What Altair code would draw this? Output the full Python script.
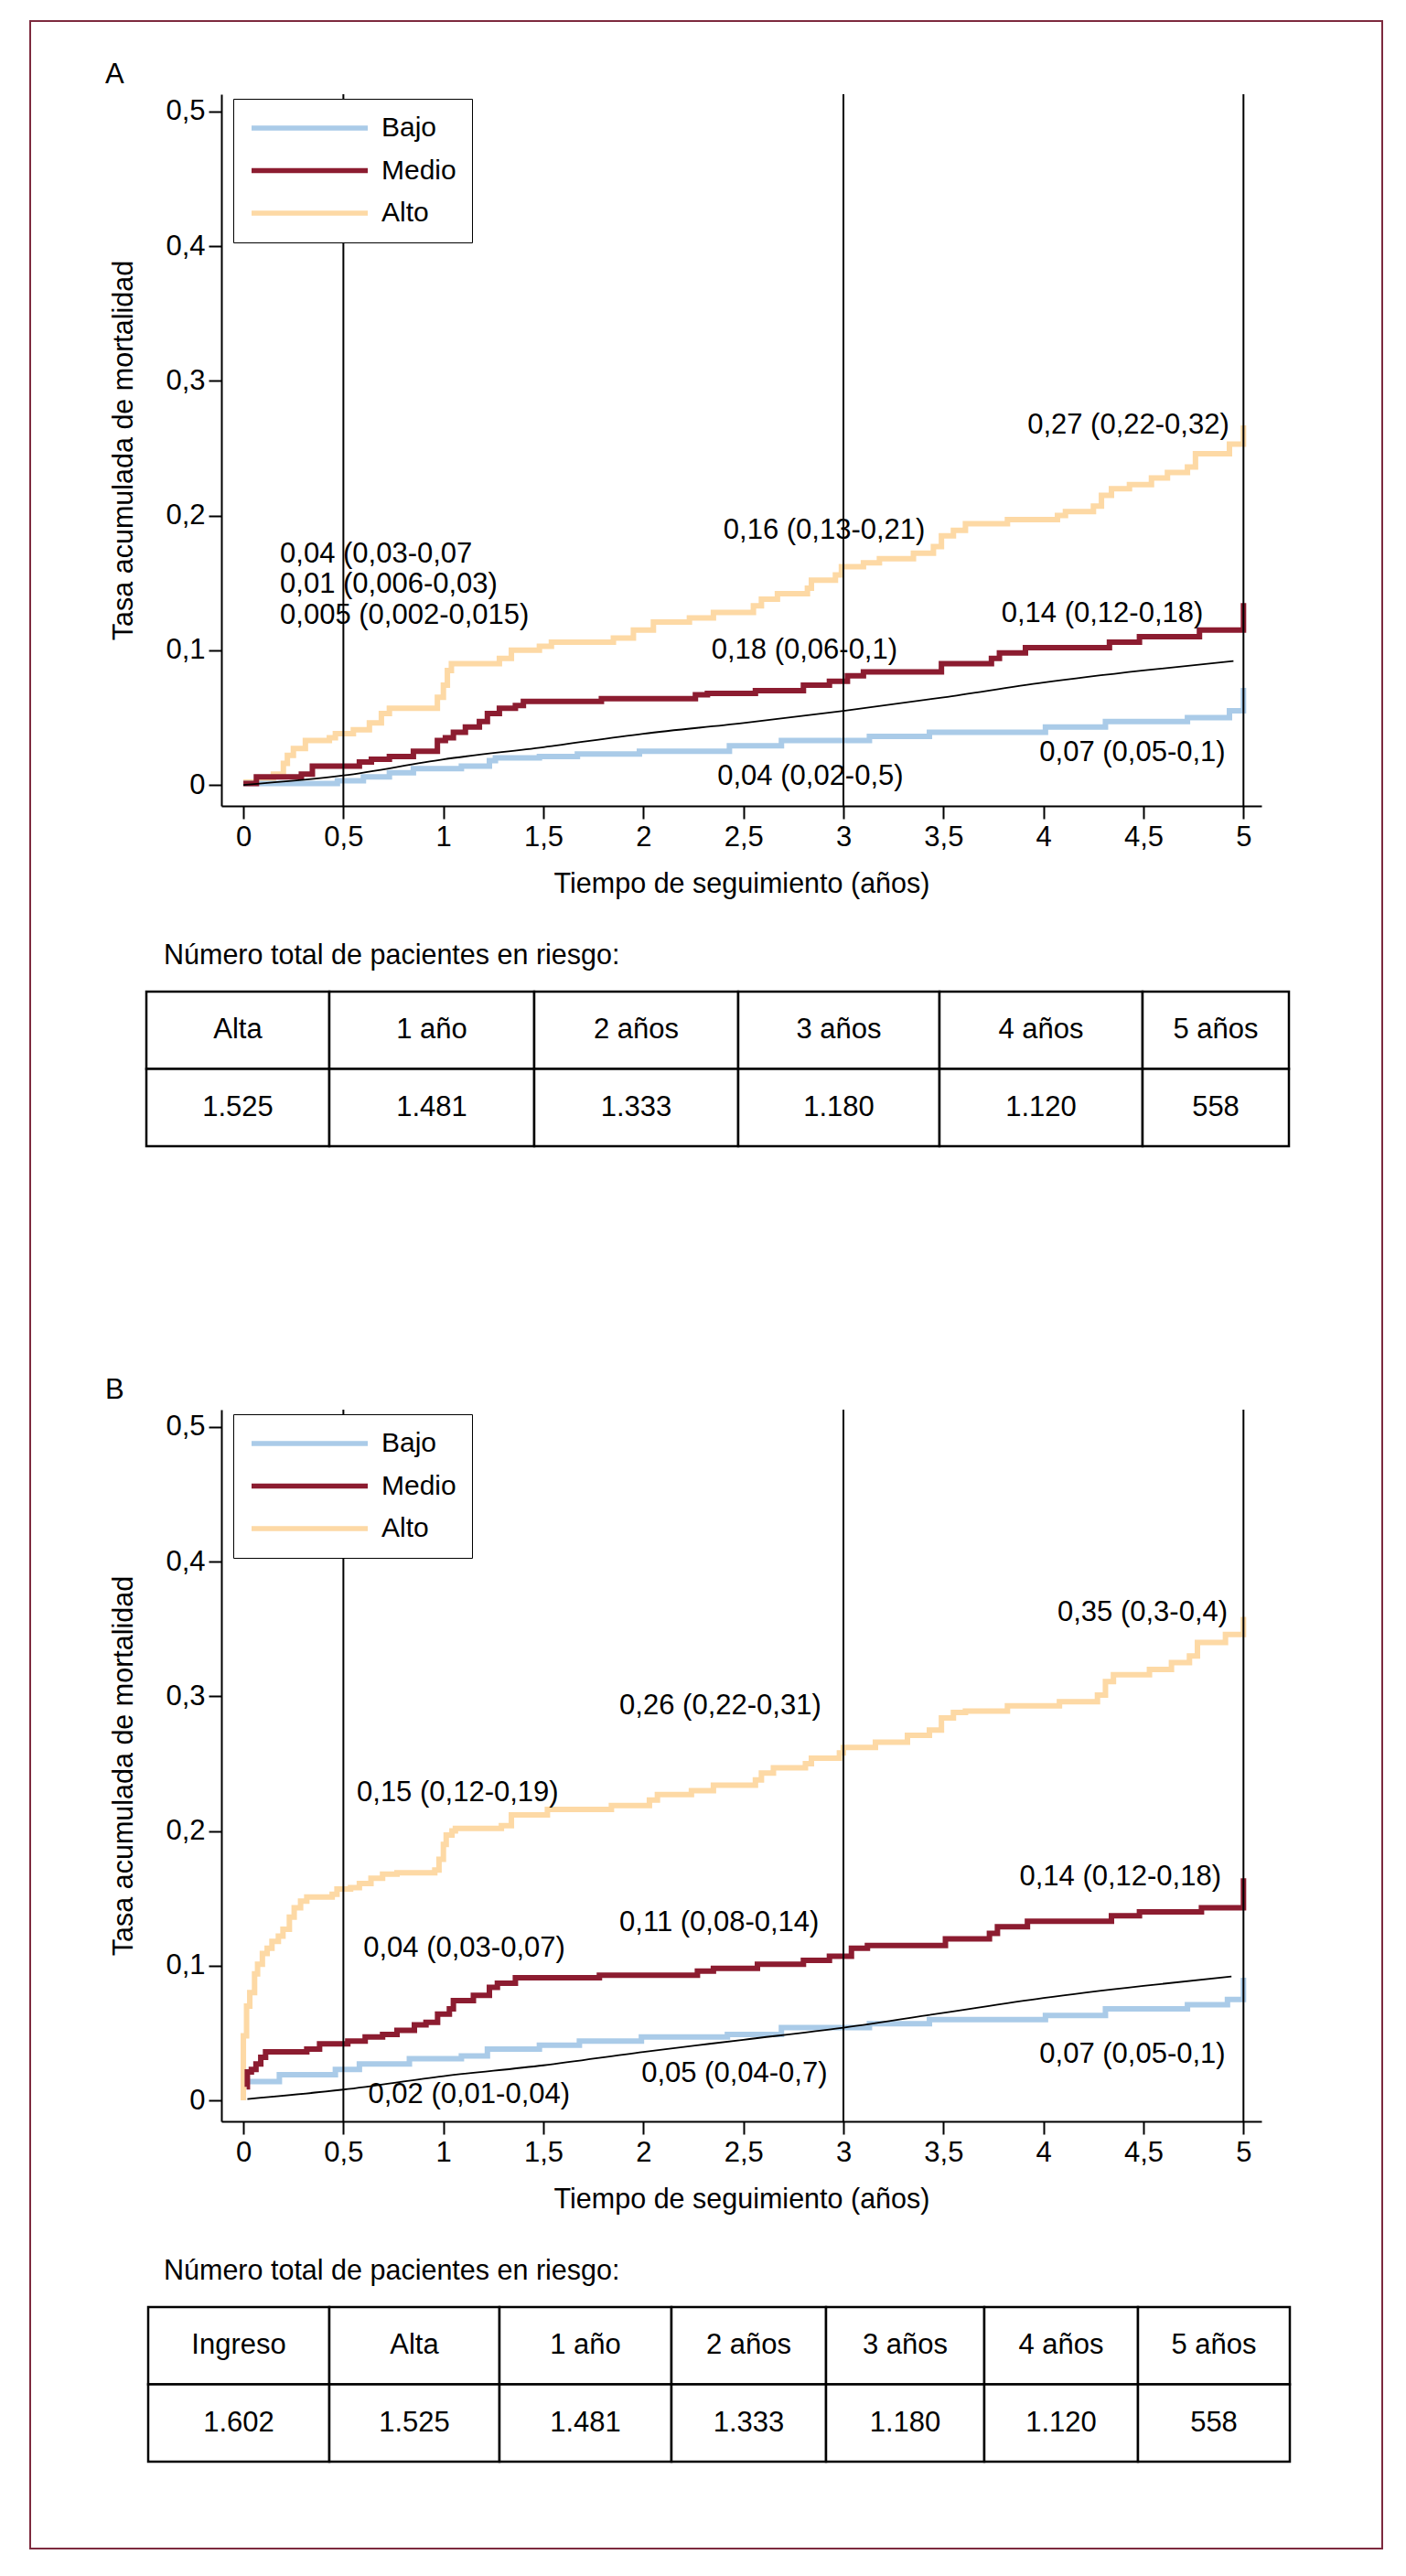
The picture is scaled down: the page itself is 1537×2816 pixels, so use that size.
import altair as alt
import pandas as pd

# ---------------- data ----------------
SERIES = ["Bajo", "Medio", "Alto"]
SERIES_COLORS = ["#AACBE8", "#8C1C30", "#FDD9A5"]
X_TICKS = [0, 0.5, 1, 1.5, 2, 2.5, 3, 3.5, 4, 4.5, 5]
Y_TICKS = [0, 0.1, 0.2, 0.3, 0.4, 0.5]
REF_YEARS = [0.5, 3, 5]

A_ALTO = [(0.0, 0.002), (0.15, 0.008), (0.20, 0.016), (0.22, 0.022), (0.25, 0.027), (0.31, 0.033),
          (0.43, 0.035), (0.46, 0.038), (0.55, 0.041), (0.63, 0.046), (0.69, 0.053), (0.73, 0.057),
          (0.97, 0.065), (1.00, 0.074), (1.02, 0.085), (1.04, 0.090), (1.28, 0.094), (1.34, 0.100),
          (1.48, 0.103), (1.54, 0.106), (1.85, 0.109), (1.95, 0.115), (2.05, 0.121), (2.23, 0.124),
          (2.35, 0.128), (2.55, 0.133), (2.59, 0.138), (2.67, 0.142), (2.82, 0.146), (2.84, 0.152),
          (2.96, 0.156), (2.99, 0.162), (3.10, 0.165), (3.18, 0.168), (3.35, 0.172), (3.45, 0.177),
          (3.49, 0.185), (3.55, 0.189), (3.61, 0.194), (3.82, 0.197), (4.07, 0.200), (4.11, 0.203),
          (4.25, 0.207), (4.29, 0.215), (4.34, 0.220), (4.43, 0.223), (4.54, 0.228), (4.62, 0.232),
          (4.72, 0.236), (4.76, 0.246), (4.93, 0.253), (5.0, 0.267)]
A_MEDIO = [(0.0, 0.001), (0.065, 0.006), (0.29, 0.008), (0.345, 0.014), (0.58, 0.017), (0.64, 0.019),
           (0.73, 0.021), (0.85, 0.025), (0.97, 0.033), (1.01, 0.035), (1.05, 0.039), (1.11, 0.043),
           (1.18, 0.047), (1.22, 0.053), (1.28, 0.057), (1.36, 0.059), (1.40, 0.062), (1.79, 0.064),
           (2.26, 0.067), (2.32, 0.068), (2.56, 0.070), (2.80, 0.074), (2.93, 0.077), (3.02, 0.081),
           (3.10, 0.084), (3.49, 0.090), (3.74, 0.094), (3.78, 0.098), (3.91, 0.102), (4.33, 0.106),
           (4.48, 0.110), (4.78, 0.115), (5.0, 0.135)]
A_BAJO = [(0.0, 0.001), (0.47, 0.003), (0.60, 0.006), (0.73, 0.009), (0.85, 0.012), (1.09, 0.014),
          (1.23, 0.018), (1.26, 0.020), (1.48, 0.021), (1.67, 0.023), (1.98, 0.025), (2.43, 0.029),
          (2.69, 0.033), (3.13, 0.036), (3.43, 0.039), (4.01, 0.043), (4.31, 0.047), (4.72, 0.050),
          (4.93, 0.055), (5.0, 0.072)]
A_EXPECTED = [(0.0, 0.0), (0.5, 0.007), (1.0, 0.019), (1.5, 0.028), (2.0, 0.038), (2.5, 0.046),
              (3.0, 0.055), (3.5, 0.065), (4.0, 0.076), (4.5, 0.085), (4.95, 0.092)]
A_LABELS = [("0,04 (0,03-0,07", 0.183, 0.171), ("0,01 (0,006-0,03)", 0.183, 0.149),
            ("0,005 (0,002-0,015)", 0.183, 0.126), ("0,16 (0,13-0,21)", 2.40, 0.189),
            ("0,27 (0,22-0,32)", 3.92, 0.267), ("0,18 (0,06-0,1)", 2.34, 0.100),
            ("0,14 (0,12-0,18)", 3.79, 0.127), ("0,04 (0,02-0,5)", 2.37, 0.006),
            ("0,07 (0,05-0,1)", 3.98, 0.024)]

B_ALTO = [(0.0, 0.0), (0.0, 0.048), (0.016, 0.070), (0.032, 0.080), (0.056, 0.094), (0.071, 0.101),
          (0.095, 0.109), (0.119, 0.113), (0.143, 0.118), (0.175, 0.122), (0.198, 0.127), (0.23, 0.136),
          (0.254, 0.143), (0.286, 0.148), (0.317, 0.151), (0.444, 0.153), (0.468, 0.157), (0.536, 0.158),
          (0.58, 0.161), (0.638, 0.165), (0.696, 0.168), (0.768, 0.169), (0.957, 0.171), (0.978, 0.179),
          (1.0, 0.190), (1.014, 0.197), (1.043, 0.200), (1.06, 0.202), (1.29, 0.204), (1.34, 0.212),
          (1.52, 0.216), (1.84, 0.219), (2.03, 0.223), (2.07, 0.227), (2.24, 0.230), (2.35, 0.234),
          (2.56, 0.238), (2.59, 0.243), (2.65, 0.247), (2.81, 0.250), (2.84, 0.254), (2.98, 0.258),
          (3.0, 0.262), (3.16, 0.266), (3.32, 0.271), (3.43, 0.275), (3.49, 0.284), (3.55, 0.288),
          (3.61, 0.289), (3.82, 0.293), (4.08, 0.296), (4.27, 0.301), (4.31, 0.311), (4.35, 0.316),
          (4.53, 0.320), (4.64, 0.325), (4.73, 0.330), (4.77, 0.340), (4.91, 0.346), (5.0, 0.359)]
B_MEDIO = [(0.016, 0.010), (0.02, 0.021), (0.04, 0.023), (0.063, 0.027), (0.087, 0.032), (0.111, 0.036),
           (0.317, 0.038), (0.381, 0.042), (0.522, 0.044), (0.609, 0.047), (0.696, 0.049), (0.768, 0.052),
           (0.855, 0.056), (0.913, 0.058), (0.971, 0.064), (1.03, 0.068), (1.05, 0.074), (1.15, 0.078),
           (1.23, 0.084), (1.27, 0.087), (1.36, 0.091), (1.78, 0.093), (2.27, 0.096), (2.35, 0.098),
           (2.57, 0.101), (2.80, 0.104), (2.93, 0.107), (3.04, 0.113), (3.12, 0.115), (3.51, 0.120),
           (3.73, 0.124), (3.77, 0.129), (3.92, 0.133), (4.34, 0.137), (4.48, 0.140), (4.79, 0.143),
           (5.0, 0.165)]
B_BAJO = [(0.016, 0.014), (0.18, 0.019), (0.46, 0.023), (0.58, 0.027), (0.83, 0.031), (1.09, 0.033),
          (1.22, 0.038), (1.48, 0.041), (1.68, 0.044), (1.99, 0.047), (2.42, 0.049), (2.69, 0.054),
          (3.13, 0.057), (3.43, 0.060), (4.01, 0.063), (4.31, 0.068), (4.72, 0.071), (4.92, 0.075),
          (5.0, 0.091)]
B_EXPECTED = [(0.02, 0.001), (0.5, 0.008), (1.0, 0.018), (1.5, 0.026), (2.0, 0.036), (2.5, 0.045),
              (3.0, 0.054), (3.5, 0.065), (4.0, 0.076), (4.5, 0.085), (4.94, 0.092)]
B_LABELS = [("0,15 (0,12-0,19)", 0.567, 0.228), ("0,04 (0,03-0,07)", 0.60, 0.113),
            ("0,02 (0,01-0,04)", 0.624, 0.004), ("0,26 (0,22-0,31)", 1.88, 0.293),
            ("0,11 (0,08-0,14)", 1.88, 0.132), ("0,05 (0,04-0,7)", 1.99, 0.020),
            ("0,35 (0,3-0,4)", 4.07, 0.362), ("0,14 (0,12-0,18)", 3.88, 0.166),
            ("0,07 (0,05-0,1)", 3.98, 0.034)]

TABLE_TITLE = "Número total de pacientes en riesgo:"
A_TABLE_COLS = ["Alta", "1 año", "2 años", "3 años", "4 años", "5 años"]
A_TABLE_VALS = ["1.525", "1.481", "1.333", "1.180", "1.120", "558"]
B_TABLE_COLS = ["Ingreso", "Alta", "1 año", "2 años", "3 años", "4 años", "5 años"]
B_TABLE_VALS = ["1.602", "1.525", "1.481", "1.333", "1.180", "1.120", "558"]

# ---------------- layout / style ----------------
A_COL_WIDTHS = [200, 224, 223, 220, 222, 160]
B_COL_WIDTHS = [198, 186, 188, 169, 173, 168, 166]
FONT = "Liberation Sans, Arial, sans-serif"
PW, PH = 1137, 778
TH = 169
XDOM = [-0.11, 5.09]
YDOM = [-0.0156, 0.5129]
BORDER_COLOR = "#7D2A3E"
TITLE_SIZE = 30.5


def x_enc():
    return alt.X("t:Q", scale=alt.Scale(domain=XDOM, nice=False, zero=False),
                 axis=alt.Axis(values=X_TICKS, format=".1~f",
                               labelExpr="replace(datum.label, '.', ',')",
                               title="Tiempo de seguimiento (años)", titleFont=FONT,
                               titleFontSize=TITLE_SIZE, titleFontWeight="normal",
                               titleColor="black", titlePadding=21, labelFont=FONT,
                               labelFontSize=31, labelColor="black", labelPadding=5,
                               tickSize=14, tickWidth=2, tickColor="black",
                               domainColor="black", domainWidth=2, grid=False,
                               labelFlush=False, labelOverlap=False))


def y_enc():
    return alt.Y("v:Q", scale=alt.Scale(domain=YDOM, nice=False, zero=False),
                 axis=alt.Axis(values=Y_TICKS, format=".1~f",
                               labelExpr="replace(datum.label, '.', ',')",
                               title="Tasa acumulada de mortalidad", titleFont=FONT,
                               titleFontSize=TITLE_SIZE, titleFontWeight="normal",
                               titleColor="black", titlePadding=30, labelFont=FONT,
                               labelFontSize=31, labelColor="black", labelPadding=4,
                               tickSize=14, tickWidth=2, tickColor="black",
                               domainColor="black", domainWidth=2, grid=False,
                               labelFlush=False, labelOverlap=False))


def panel(alto, medio, bajo, expected, labels, letter, with_border):
    rows = []
    for name, pts in (("Alto", alto), ("Bajo", bajo), ("Medio", medio)):
        for i, (t, v) in enumerate(pts):
            rows.append({"serie": name, "t": t, "v": v, "i": i})
    steps = pd.DataFrame(rows)
    x = x_enc()
    y = y_enc()
    color = alt.Color("serie:N", scale=alt.Scale(domain=SERIES, range=SERIES_COLORS),
                      legend=alt.Legend(title=None, orient="none", legendX=13, legendY=5,
                                        symbolType="stroke", symbolSize=16129,
                                        symbolStrokeWidth=5.5, labelFont=FONT, labelFontSize=30,
                                        labelColor="black", labelOffset=12, strokeColor="black",
                                        fillColor="white", padding=17, rowPadding=16.5,
                                        clipHeight=30))
    base = alt.Chart(steps).mark_line(interpolate="step-after", strokeWidth=6,
                                      strokeJoin="miter", strokeCap="butt").encode(
        x=x, y=y, color=color, order="i:Q")
    layers = [base.transform_filter(alt.datum.serie == s) for s in ("Alto", "Bajo", "Medio")]

    exp = alt.Chart(pd.DataFrame(expected, columns=["t", "v"])).mark_line(
        color="black", strokeWidth=1.8, interpolate="monotone").encode(x=x, y=y)
    ref = alt.Chart(pd.DataFrame({"t": REF_YEARS})).mark_rule(
        color="black", strokeWidth=2).encode(x=x)
    lab = alt.Chart(pd.DataFrame(labels, columns=["txt", "t", "v"])).mark_text(
        align="left", baseline="middle", font=FONT, fontSize=31, color="black").encode(
        x=x, y=y, text="txt:N")
    let = alt.Chart(pd.DataFrame({"p": [letter]})).mark_text(
        align="left", baseline="middle", font=FONT, fontSize=31, color="black").encode(
        x=alt.value(-127), y=alt.value(-21), text="p:N")
    parts = layers + [exp, ref, lab, let]
    if with_border:
        border = alt.Chart(pd.DataFrame({"k": [0]})).mark_rect(
            fillOpacity=0, stroke=BORDER_COLOR, strokeWidth=2).encode(
            x=alt.value(-209), x2=alt.value(1269), y=alt.value(-80), y2=alt.value(2683))
        parts.append(border)
    return alt.layer(*parts).properties(width=PW, height=PH)


def table(cols, vals, widths, x0):
    n = len(cols)
    starts = [sum(widths[:i]) for i in range(n)]
    ends = [s + w for s, w in zip(starts, widths)]
    mids = [(s + e) / 2 for s, e in zip(starts, ends)]
    total = sum(widths)
    df = pd.DataFrame({"c0": starts * 2, "c1": ends * 2, "cm": mids * 2,
                       "row": ["h"] * n + ["v"] * n, "txt": cols + vals})
    xs = alt.Scale(domain=[0, total], range=[x0, x0 + total], nice=False, zero=False)
    y = alt.Y("row:N", scale=alt.Scale(domain=["h", "v"], range=[0, TH], paddingInner=0,
                                       paddingOuter=0), axis=None)
    cells = alt.Chart(df).mark_rect(fill="white", stroke="black", strokeWidth=2.5).encode(
        x=alt.X("c0:Q", scale=xs, axis=None), x2="c1:Q", y=y)
    txt = alt.Chart(df).mark_text(font=FONT, fontSize=31, color="black").encode(
        x=alt.X("cm:Q", scale=xs, axis=None), y=y, text="txt:N")
    return alt.layer(cells, txt, title=alt.TitleParams(
        TABLE_TITLE, anchor="start", frame="group", dx=-63, offset=22, font=FONT,
        fontSize=TITLE_SIZE, fontWeight="normal", color="black")).properties(width=PW, height=254)


pA = panel(A_ALTO, A_MEDIO, A_BAJO, A_EXPECTED, A_LABELS, "A", True)
tA = table(A_TABLE_COLS, A_TABLE_VALS, A_COL_WIDTHS, -82)
pB = panel(B_ALTO, B_MEDIO, B_BAJO, B_EXPECTED, B_LABELS, "B", False)
tB = table(B_TABLE_COLS, B_TABLE_VALS, B_COL_WIDTHS, -80)

chart = alt.vconcat(pA, tA, pB, tB, spacing=203, bounds="flush",
                    padding={"left": 24, "top": 14, "right": 10, "bottom": 10}).resolve_legend(
    color="independent").resolve_scale(color="shared").configure_view(strokeOpacity=0)

chart.save("out.html", embed_options={"renderer": "svg", "actions": False})
